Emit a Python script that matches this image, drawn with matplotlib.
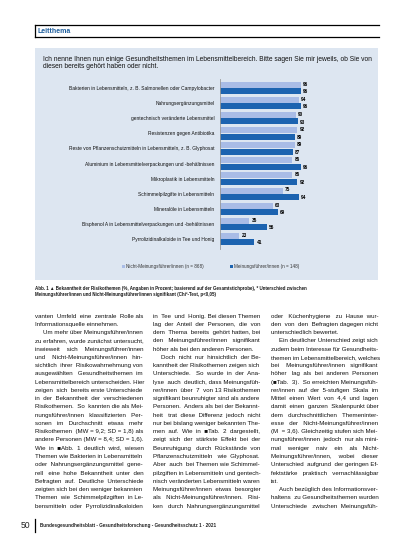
import matplotlib
matplotlib.use("Agg")
import matplotlib.pyplot as plt
from matplotlib.font_manager import FontProperties
from matplotlib.patches import Rectangle

# chart data (%)
themen = [
    "Bakterien in Lebensmitteln, z. B. Salmonellen oder Campylobacter",
    "Nahrungsergänzungsmittel",
    "gentechnisch veränderte Lebensmittel",
    "Resistenzen gegen Antibiotika",
    "Reste von Pflanzenschutzmitteln in Lebensmitteln, z. B. Glyphosat",
    "Aluminium in Lebensmittelverpackungen und -behältnissen",
    "Mikroplastik in Lebensmitteln",
    "Schimmelpilzgifte in Lebensmitteln",
    "Mineralöle in Lebensmitteln",
    "Bisphenol A in Lebensmittelverpackungen und -behältnissen",
    "Pyrrolizidinalkaloide in Tee und Honig",
]
nicht_mf = [96, 94, 90, 92, 89, 86, 86, 75, 63, 35, 23]
mf = [96, 96, 93, 89, 87, 96, 92, 94, 69, 56, 41]
legende = ["Nicht-Meinungsführer/innen (n = 868)", "Meinungsführer/innen (n = 148)"]

frage = ["Ich nenne Ihnen nun einige Gesundheitsthemen im Lebensmittelbereich. Bitte sagen Sie mir jeweils, ob Sie von",
         "diesen bereits gehört haben oder nicht."]
caption = ["Abb. 1 \u25b2 Bekanntheit der Risikothemen (%, Angaben in Prozent; basierend auf der Gesamtstichprobe), * Unterschied zwischen",
           "Meinungsführer/innen und Nicht-Meinungsführer/innen signifikant (Chi\u00b2-Test, p<0,05)"]

# body text: (line, justified?, indented?)
spalte1 = [
    ("vanten Umfeld eine zentrale Rolle als", 1, 0),
    ("Informationsquelle einnehmen.", 0, 0),
    ("Um mehr über Meinungsführer/innen", 1, 1),
    ("zu erfahren, wurde zunächst untersucht,", 1, 0),
    ("inwieweit sich Meinungsführer/innen", 1, 0),
    ("und Nicht-Meinungsführer/innen hin-", 1, 0),
    ("sichtlich ihrer Risikowahrnehmung von", 1, 0),
    ("ausgewählten Gesundheitsthemen im", 1, 0),
    ("Lebensmittelbereich unterscheiden. Hier", 1, 0),
    ("zeigen sich bereits erste Unterschiede", 1, 0),
    ("in der Bekanntheit der verschiedenen", 1, 0),
    ("Risikothemen. So kannten die als Mei-", 1, 0),
    ("nungsführer/innen klassifizierten Per-", 1, 0),
    ("sonen im Durchschnitt etwas mehr", 1, 0),
    ("Risikothemen (MW = 9,2; SD = 1,8) als", 1, 0),
    ("andere Personen (MW = 8,4; SD = 1,6).", 1, 0),
    ("Wie in \u25a0Abb. 1 deutlich wird, wiesen", 1, 0),
    ("Themen wie Bakterien in Lebensmitteln", 1, 0),
    ("oder Nahrungsergänzungsmittel gene-", 1, 0),
    ("rell eine hohe Bekanntheit unter den", 1, 0),
    ("Befragten auf. Deutliche Unterschiede", 1, 0),
    ("zeigten sich bei den weniger bekannten", 1, 0),
    ("Themen wie Schimmelpilzgiften in Le-", 1, 0),
    ("bensmitteln oder Pyrrolizidinalkaloiden", 1, 0),
]
spalte2 = [
    ("in Tee und Honig. Bei diesen Themen", 1, 0),
    ("lag der Anteil der Personen, die von", 1, 0),
    ("dem Thema bereits gehört hatten, bei", 1, 0),
    ("den Meinungsführer/innen signifikant", 1, 0),
    ("höher als bei den anderen Personen.", 0, 0),
    ("Doch nicht nur hinsichtlich der Be-", 1, 1),
    ("kanntheit der Risikothemen zeigen sich", 1, 0),
    ("Unterschiede. So wurde in der Ana-", 1, 0),
    ("lyse auch deutlich, dass Meinungsfüh-", 1, 0),
    ("rer/innen über 7 von 13 Risikothemen", 1, 0),
    ("signifikant beunruhigter sind als andere", 1, 0),
    ("Personen. Anders als bei der Bekannt-", 1, 0),
    ("heit trat diese Differenz jedoch nicht", 1, 0),
    ("nur bei bislang weniger bekannten The-", 1, 0),
    ("men auf. Wie in \u25a0Tab. 2 dargestellt,", 1, 0),
    ("zeigt sich der stärkste Effekt bei der", 1, 0),
    ("Beunruhigung durch Rückstände von", 1, 0),
    ("Pflanzenschutzmitteln wie Glyphosat.", 1, 0),
    ("Aber auch bei Themen wie Schimmel-", 1, 0),
    ("pilzgiften in Lebensmitteln und gentech-", 1, 0),
    ("nisch veränderten Lebensmitteln waren", 1, 0),
    ("Meinungsführer/innen etwas besorgter", 1, 0),
    ("als Nicht-Meinungsführer/innen. Risi-", 1, 0),
    ("ken durch Nahrungsergänzungsmittel", 1, 0),
]
spalte3 = [
    ("oder Küchenhygiene zu Hause wur-", 1, 0),
    ("den von den Befragten dagegen nicht", 1, 0),
    ("unterschiedlich bewertet.", 0, 0),
    ("Ein deutlicher Unterschied zeigt sich", 1, 1),
    ("zudem beim Interesse für Gesundheits-", 1, 0),
    ("themen im Lebensmittelbereich, welches", 1, 0),
    ("bei Meinungsführer/innen signifikant", 1, 0),
    ("höher lag als bei anderen Personen", 1, 0),
    ("(\u25a0Tab. 3). So erreichten Meinungsfüh-", 1, 0),
    ("rer/innen auf der 5-stufigen Skala im", 1, 0),
    ("Mittel einen Wert von 4,4 und lagen", 1, 0),
    ("damit einen ganzen Skalenpunkt über", 1, 0),
    ("dem durchschnittlichen Themeninter-", 1, 0),
    ("esse der Nicht-Meinungsführer/innen", 1, 0),
    ("(M = 3,6). Gleichzeitig stufen sich Mei-", 1, 0),
    ("nungsführer/innen jedoch nur als mini-", 1, 0),
    ("mal weniger naiv ein als Nicht-", 1, 0),
    ("Meinungsführer/innen, wobei dieser", 1, 0),
    ("Unterschied aufgrund der geringen Ef-", 1, 0),
    ("fektstärke praktisch vernachlässigbar", 1, 0),
    ("ist.", 0, 0),
    ("Auch bezüglich des Informationsver-", 1, 1),
    ("haltens zu Gesundheitsthemen wurden", 1, 0),
    ("Unterschiede zwischen Meinungsfüh-", 1, 0),
]

W, H = 413, 550
hell = "#a9bce6"
dunkel = "#1c63b0"
panel = "#dde6f1"
blau = "#1f5f9e"
ink = "#111111"
fam = ["Liberation Sans", "DejaVu Sans"]

fig = plt.figure(figsize=(W / 100, H / 100), dpi=100)
page = fig.add_axes([0, 0, 1, 1])
page.set_xlim(0, W)
page.set_ylim(H, 0)
page.axis("off")
renderer = fig.canvas.get_renderer()


def fp_of(size, weight="normal"):
    return FontProperties(family=fam, size=size, weight=weight)


def text_w(s, size, weight="normal"):
    return renderer.get_text_width_height_descent(s, fp_of(size, weight), ismath=False)[0]


def fit_size(texts, width, base, weight="normal"):
    widest = max(text_w(t, base, weight) for t in texts)
    return min(base, base * width / widest)


def px_axes(x0, y0, x1, y1):
    return fig.add_axes([x0 / W, 1 - y1 / H, (x1 - x0) / W, (y1 - y0) / H])


def put_line(x0, x1, y, text, size, justify=True, color=ink):
    # whole line as one text; justified by spreading extra spaces over the gaps
    avail = x1 - x0
    natural = text_w(text, size)
    if natural > avail:
        size = size * avail / natural
        natural = text_w(text, size)
    words = text.split()
    if justify and len(words) > 1:
        space = text_w("a a", size) - text_w("aa", size)
        extra = int(round((avail - natural) / space))
        gaps = [1] * (len(words) - 1)
        k = 0
        while extra > 0:
            gaps[k % len(gaps)] += 1
            k += 1
            extra -= 1
        text = words[0] + "".join(" " * g + w for g, w in zip(gaps, words[1:]))
    page.text(x0, y, text, fontproperties=fp_of(size), color=color,
              va="baseline", ha="left")


# header "Leitthema"
page.plot([35, 379], [25, 25], color="black", lw=0.9)
page.plot([35, 379], [37, 37], color="black", lw=0.9)
page.plot([35, 35], [25, 37], color="black", lw=0.9)
page.text(38, 31.3, "Leitthema", fontproperties=fp_of(5.0, "bold"), color=blau, va="center")

# figure panel
page.add_patch(Rectangle((35, 48), 343, 232, color=panel, lw=0))
fs_q = fit_size(frage, 327, 5.5)
page.text(43, 59.5, frage[0], fontproperties=fp_of(fs_q), color=ink, va="center")
page.text(43, 66.8, frage[1], fontproperties=fp_of(fs_q), color=ink, va="center")

# bar chart
ax = px_axes(220, 80.5, 304, 246.6)
ax.set_xlim(0, 100)
ax.set_ylim(len(themen) - 0.5, -0.5)
ax.patch.set_alpha(0)
for s in ["top", "right", "bottom"]:
    ax.spines[s].set_visible(False)
ax.spines["left"].set_color("#9a9a9a")
ax.spines["left"].set_linewidth(0.6)
ax.spines["left"].set_bounds(-0.6, len(themen) - 0.35)
ax.set_xticks([])
pos = list(range(len(themen)))
ax.barh([p - 0.21 for p in pos], nicht_mf, height=0.4, color=hell)
ax.barh([p + 0.21 for p in pos], mf, height=0.4, color=dunkel)
fs_cat = fit_size(themen, 143, 4.5)
ax.set_yticks(pos)
ax.set_yticklabels(themen, fontproperties=fp_of(fs_cat), color=ink)
ax.tick_params(axis="y", length=0, pad=4)
for p, a, b in zip(pos, nicht_mf, mf):
    ax.text(a + 2.5, p - 0.25, str(a), fontproperties=fp_of(3.4, "bold"),
            va="center", clip_on=False)
    ax.text(b + 2.5, p + 0.25, str(b), fontproperties=fp_of(3.4, "bold"),
            va="center", clip_on=False)

# legend
fs_leg = fit_size([legende[0]], 77, 3.8)
page.add_patch(Rectangle((122, 264.8), 3, 3, color=hell, lw=0))
page.text(126, 266.4, legende[0], fontproperties=fp_of(fs_leg), color="#333333", va="center")
page.add_patch(Rectangle((230, 264.8), 3, 3, color=dunkel, lw=0))
page.text(234, 266.4, legende[1], fontproperties=fp_of(fs_leg), color="#333333", va="center")

# caption
fs_cap = fit_size([caption[0]], 276, 4.2, "bold")
page.text(35, 288.3, caption[0], fontproperties=fp_of(fs_cap, "bold"), color="#1a1a1a", va="center")
page.text(35, 294.8, caption[1], fontproperties=fp_of(fs_cap, "bold"), color="#1a1a1a", va="center")

# body text columns: size so that most lines fit, the longest ones get squeezed a bit
all_lines = [t for col in (spalte1, spalte2, spalte3) for t, j, i in col if j]
ws = sorted(text_w(t, 5.0) for t in all_lines)
fs_body = 5.0 * 106 / ws[int(len(ws) * 0.6)]
for x0, x1, lines in [(35, 143, spalte1), (153, 260, spalte2), (271, 378, spalte3)]:
    for i, (t, just, ind) in enumerate(lines):
        y = 317.6 + i * 8.26
        put_line(x0 + (8 if ind else 0), x1, y, t, fs_body, justify=bool(just))

# footer
page.text(30, 525, "50", fontproperties=fp_of(6.2), ha="right", va="center", color="#222222")
page.plot([35, 35], [518.5, 531.5], color="black", lw=0.9)
foot = "Bundesgesundheitsblatt - Gesundheitsforschung - Gesundheitsschutz 1 \u00b7 2021"
page.text(40, 525.3, foot, fontproperties=fp_of(fit_size([foot], 172, 4.0, "bold"), "bold"),
          va="center", color="#222222")

fig.savefig("out.png", dpi=100)
